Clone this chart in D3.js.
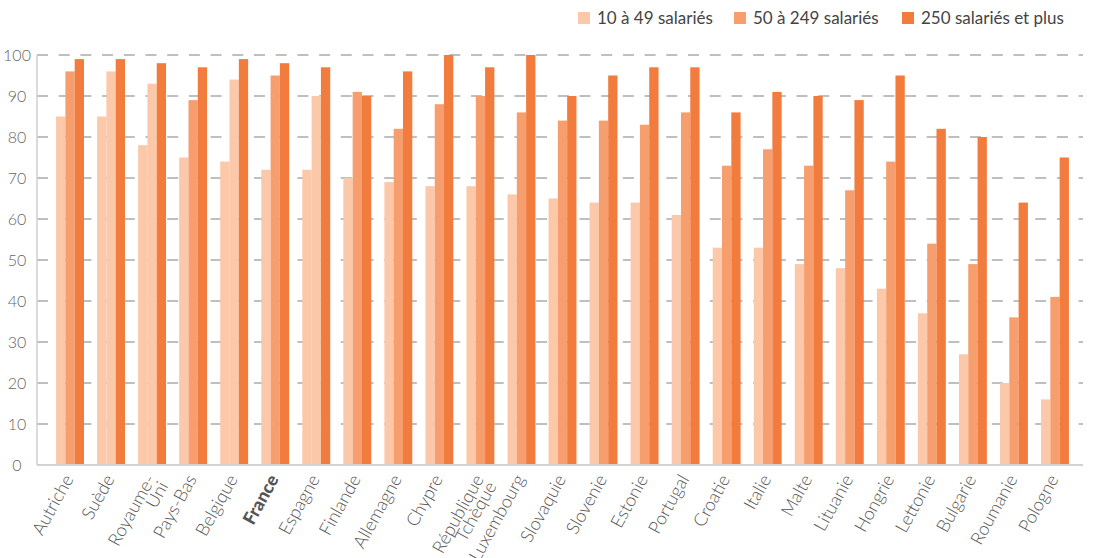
<!DOCTYPE html>
<html lang="fr">
<head>
<meta charset="utf-8">
<script src="https://cdn.jsdelivr.net/npm/d3@7"></script>
<style>
  html, body { margin: 0; padding: 0; background: #fff; }
  svg { display: block; font-family: Lato, "Open Sans", sans-serif; }
</style>
</head>
<body>
<svg id="chart" width="1100" height="558"></svg>
<script>
// Pays (ordre d'affichage)
const countries = ["Autriche", "Suède", "Royaume-\nUni", "Pays-Bas", "Belgique", "France", "Espagne",
  "Finlande", "Allemagne", "Chypre", "République\nTchèque", "Luxembourg", "Slovaquie", "Slovenie",
  "Estonie", "Portugal", "Croatie", "Italie", "Malte", "Lituanie", "Hongrie", "Lettonie",
  "Bulgarie", "Roumanie", "Pologne"];

// Séries
const seriesNames = ["10 à 49 salariés", "50 à 249 salariés", "250 salariés et plus"];
const small  = [85, 85, 78, 75, 74, 72, 72, 70, 69, 68, 68, 66, 65, 64, 64, 61, 53, 53, 49, 48, 43, 37, 27, 20, 16];
const medium = [96, 96, 93, 89, 94, 95, 90, 91, 82, 88, 90, 86, 84, 84, 83, 86, 73, 77, 73, 67, 74, 54, 49, 36, 41];
const large  = [99, 99, 98, 97, 99, 98, 97, 90, 96, 100, 97, 100, 90, 95, 97, 97, 86, 91, 90, 89, 95, 82, 80, 64, 75];

// Graduations de l'axe vertical
const yTicks = [0, 10, 20, 30, 40, 50, 60, 70, 80, 90, 100];

const colors = ["#fbc8a9", "#f79e6e", "#f27b3e"];
// Barres du milieu affichées dans le ton clair
const lightMiddle = new Set(["Suède", "Royaume-\nUni", "Belgique", "Espagne"]);

const svg = d3.select("#chart");
const plotLeft = 37, plotRight = 1083, plotTop = 55, plotBottom = 465;

const y = d3.scaleLinear().domain([0, 100]).range([plotBottom, plotTop]);
const x = d3.scaleBand().domain(countries).range([49.5, 1075.5]).paddingInner(0.32).paddingOuter(0.16);
const xs = d3.scaleBand().domain([0, 1, 2]).range([0, x.bandwidth()]);

// Quadrillage horizontal en pointillés
svg.append("g")
  .selectAll("line")
  .data(yTicks.filter(d => d > 0))
  .join("line")
  .attr("x1", plotLeft).attr("x2", plotRight)
  .attr("y1", d => y(d)).attr("y2", d => y(d))
  .attr("stroke", "#ababab")
  .attr("stroke-width", 1.4)
  .attr("stroke-dasharray", "11,10.7");

// Axe vertical
svg.append("line")
  .attr("x1", plotLeft).attr("x2", plotLeft)
  .attr("y1", y(100)).attr("y2", plotBottom)
  .attr("stroke", "#cfcfcf").attr("stroke-width", 1.5);

// Libellés de l'axe vertical
const yAxis = d3.axisLeft(y).tickValues(yTicks).tickSize(0).tickPadding(0);
const gy = svg.append("g").attr("transform", "translate(17,0)").call(yAxis);
gy.select(".domain").remove();
gy.selectAll("text")
  .attr("text-anchor", "middle")
  .attr("x", 0)
  .attr("dy", "0.34em")
  .attr("fill", "#666")
  .style("font-size", "16px")
  .style("font-family", "Lato, sans-serif")
  .style("font-weight", 300);

// Barres
const data = countries.map((c, i) => ({ c, v: [small[i], medium[i], large[i]] }));
const groups = svg.append("g").selectAll("g")
  .data(data).join("g")
  .attr("transform", d => `translate(${x(d.c)},0)`);
groups.selectAll("rect")
  .data(d => d.v.map((v, k) => ({ v, k, c: d.c })))
  .join("rect")
  .attr("x", d => xs(d.k))
  .attr("width", xs.bandwidth())
  .attr("y", d => y(d.v))
  .attr("height", d => y(0) - y(d.v) + 1)
  .attr("fill", d => (d.k === 1 && lightMiddle.has(d.c)) ? colors[0] : colors[d.k]);

// Axe horizontal
svg.append("line")
  .attr("x1", plotLeft).attr("x2", plotRight)
  .attr("y1", plotBottom).attr("y2", plotBottom)
  .attr("stroke", "#d2d2d2").attr("stroke-width", 2);

// Libellés des pays, inclinés
const xl = svg.append("g");
countries.forEach(c => {
  const cx = x(c) + x.bandwidth() / 2;
  const t = xl.append("text")
    .attr("transform", `translate(${cx + 4},${plotBottom + 14}) rotate(-61)`)
    .attr("text-anchor", "end")
    .attr("fill", "#555")
    .style("font-size", "18px")
    .style("font-weight", c === "France" ? 900 : 300);
  c.split("\n").forEach((line, j) => {
    t.append("tspan").attr("x", 0).attr("dy", j === 0 ? 0 : "0.8em").text(line);
  });
});

// Légende
const legendX = [578, 734, 902];
const lg = svg.append("g");
seriesNames.forEach((name, k) => {
  lg.append("rect")
    .attr("x", legendX[k]).attr("y", 12)
    .attr("width", 12).attr("height", 12)
    .attr("fill", colors[k]);
  lg.append("text")
    .attr("x", legendX[k] + 19).attr("y", 24)
    .attr("fill", "#444")
    .style("font-size", "17px")
    .text(name);
});
</script>
</body>
</html>
